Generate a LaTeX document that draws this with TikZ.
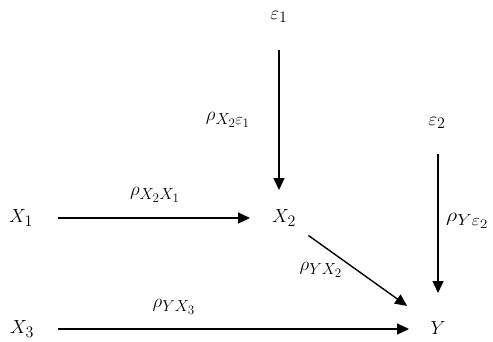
\documentclass[tikz,border=0pt]{standalone}
\usepackage{fix-cm}
\DeclareMathSizes{19}{19}{16}{13}
\usetikzlibrary{arrows.meta}
\tikzset{
  lbl/.style={inner sep=0pt, font=\fontsize{19}{22}\selectfont},
  conn/.style={line width=1.4pt, -{Triangle[length=12pt,width=11pt]}},
}
\begin{document}
\begin{tikzpicture}[x=1pt,y=-1pt]
\useasboundingbox (0,0) rectangle (493,341);
\node[lbl] (e1) at (279,17) {$\varepsilon_1$};
\node[lbl] (e2) at (437,123) {$\varepsilon_2$};
\node[lbl] (X1) at (21,218) {$X_1$};
\node[lbl] (X2) at (284,218) {$X_2$};
\node[lbl] (X3) at (22,329) {$X_3$};
\node[lbl] (Y) at (438,328) {$Y$};
\node[lbl] (l1) at (228,120) {$\rho_{X_2\varepsilon_1}$};
\node[lbl] (l2) at (155,195) {$\rho_{X_2X_1}$};
\node[lbl] (l3) at (321,270) {$\rho_{YX_2}$};
\node[lbl] (l4) at (174,307) {$\rho_{YX_3}$};
\node[lbl, anchor=west, xscale=1.15] (l5) at (446,221) {$\rho_{Y\varepsilon_2}$};
\draw[conn, shorten <=33pt, shorten >=28pt] (e1.center) -- (e1.center |- X2.center);
\draw[conn, shorten <=31pt, shorten >=35pt] (e2.center -| Y.center) -- (Y.center);
\draw[conn, shorten <=37pt, shorten >=34pt] (X1.center) -- (X2.center);
\draw[conn, shorten <=30pt, shorten >=38pt] (X2.center) -- (Y.center);
\draw[conn, shorten <=36pt, shorten >=29pt] (X3.center) -- (X3.center -| Y.center);
\end{tikzpicture}
\end{document}
